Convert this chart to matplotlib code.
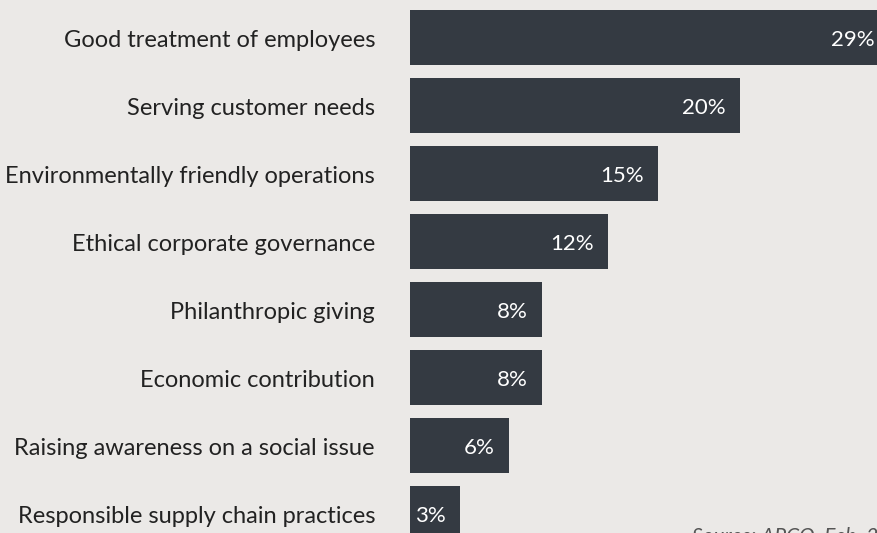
import matplotlib.pyplot as plt

plt.rcParams["font.family"] = ["Lato", "DejaVu Sans"]

categories = [
    "Good treatment of employees",
    "Serving customer needs",
    "Environmentally friendly operations",
    "Ethical corporate governance",
    "Philanthropic giving",
    "Economic contribution",
    "Raising awareness on a social issue",
    "Responsible supply chain practices",
]
values = [29, 20, 15, 12, 8, 8, 6, 3]
source_text = "Source: APCO, Feb. 2021"

bg = "#ebe9e7"
bar_color = "#343a42"

W, H = 878, 533
fig = plt.figure(figsize=(W / 100, H / 100), dpi=100, facecolor=bg)
ax = fig.add_axes([0, 0, 1, 1])
ax.set_facecolor(bg)

# pixel layout: bars start at x=410, 16.5 px per percent, rows 68 px apart
px_per_pct = 16.5
x0 = 410
row = 68
first_center = 37.5
ax.set_xlim(-x0 / px_per_pct, (W - x0) / px_per_pct)
ax.set_ylim((H - first_center) / row, -first_center / row)

pos = list(range(len(categories)))
ax.barh(pos, values, height=55 / row, color=bar_color, left=0)

for y, cat, v in zip(pos, categories, values):
    ax.annotate(cat, xy=(0, y), xytext=(-35, -3), textcoords="offset pixels",
                ha="right", va="center", fontsize=17, color="#222222",
                annotation_clip=False)
    ax.annotate(f"{v}%", xy=(v, y), xytext=(-14, -3), textcoords="offset pixels",
                ha="right", va="center", fontsize=16, color="white",
                annotation_clip=False)

fig.text(692 / W, 1 - 526 / H, source_text, ha="left", va="top",
         fontsize=15, style="italic", color="#555555")

ax.axis("off")
fig.savefig("out.png", dpi=100, facecolor=bg)
